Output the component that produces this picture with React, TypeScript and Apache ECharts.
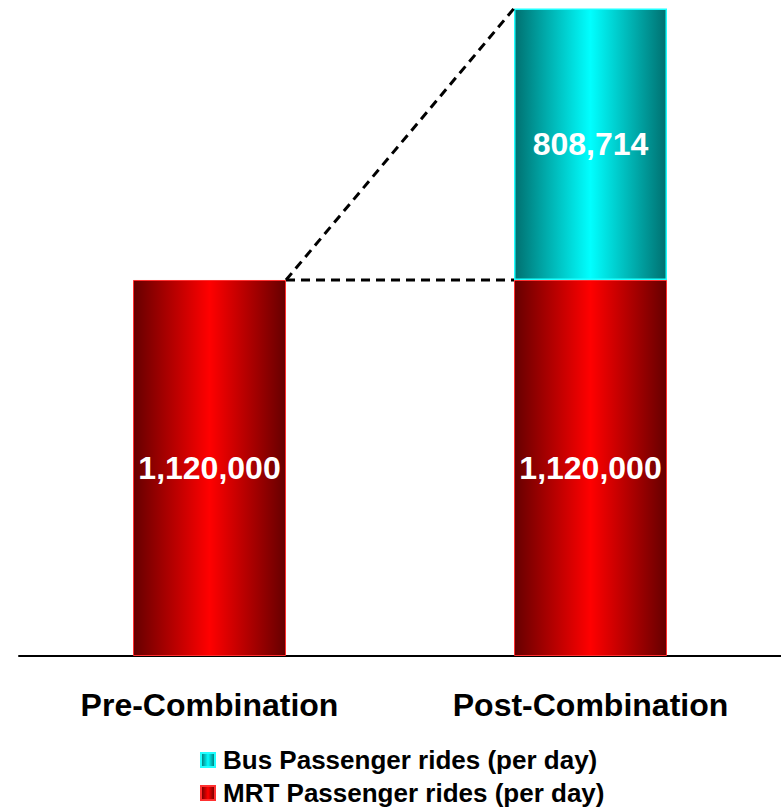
import React, { useEffect, useRef } from "react";
import * as echarts from "echarts";

const categories = ["Pre-Combination", "Post-Combination"];
const mrtValues = [1120000, 1120000];
const busValues = [null, 808714];
const seriesNames = ["Bus Passenger rides (per day)", "MRT Passenger rides (per day)"];

const redGrad = new echarts.graphic.LinearGradient(0, 0, 1, 0, [
  { offset: 0, color: "#660000" },
  { offset: 0.5, color: "#ff0000" },
  { offset: 1, color: "#660000" },
]);
const cyanGrad = new echarts.graphic.LinearGradient(0, 0, 1, 0, [
  { offset: 0, color: "#007070" },
  { offset: 0.5, color: "#00ffff" },
  { offset: 1, color: "#007070" },
]);

const fmt = (v: number) => v.toLocaleString("en-US");
const FONT = "Liberation Sans, Arial, sans-serif";

export default function App() {
  const ref = useRef<HTMLDivElement>(null);
  useEffect(() => {
    const chart = echarts.init(ref.current!, undefined, { renderer: "svg" });
    const total = mrtValues[1] + (busValues[1] as number);
    const barWidth = 153;
    const legendText = {
      fontFamily: FONT,
      fontWeight: "bold",
      fontSize: 26,
      color: "#000",
      padding: [0, 0, 0, 3],
    };
    const valueLabel = {
      show: true,
      position: "inside",
      formatter: (p: any) => fmt(p.value),
      color: "#fff",
      fontFamily: FONT,
      fontWeight: "bold",
      fontSize: 32,
    };
    chart.setOption({
      animation: false,
      grid: { left: 19, right: 0, top: 8.5, bottom: 151 },
      legend: [
        {
          left: 195,
          top: 742,
          icon: "rect",
          itemWidth: 14,
          itemHeight: 14,
          data: [seriesNames[0]],
          textStyle: legendText,
        },
        {
          left: 195,
          top: 775,
          icon: "rect",
          itemWidth: 14,
          itemHeight: 14,
          data: [seriesNames[1]],
          textStyle: legendText,
        },
      ],
      xAxis: {
        type: "category",
        data: categories,
        axisLine: { lineStyle: { color: "#000", width: 2 } },
        axisTick: { show: false },
        axisLabel: {
          margin: 33,
          fontFamily: FONT,
          fontWeight: "bold",
          fontSize: 32,
          color: "#000",
        },
      },
      yAxis: { type: "value", min: 0, max: total, show: false, splitLine: { show: false } },
      series: [
        {
          name: seriesNames[1],
          type: "bar",
          stack: "s",
          barWidth,
          data: mrtValues,
          itemStyle: { color: redGrad, borderColor: "#ff3030", borderWidth: 1 },
          label: valueLabel,
        },
        {
          name: seriesNames[0],
          type: "bar",
          stack: "s",
          barWidth,
          data: busValues,
          itemStyle: { color: cyanGrad, borderColor: "#20ffff", borderWidth: 1.5 },
          label: valueLabel,
        },
      ],
    });
    const p1 = chart.convertToPixel({ gridIndex: 0 }, [0, mrtValues[0]]) as number[];
    const p2 = chart.convertToPixel({ gridIndex: 0 }, [1, total]) as number[];
    const p3 = chart.convertToPixel({ gridIndex: 0 }, [1, mrtValues[1]]) as number[];
    const x1 = p1[0] + barWidth / 2;
    const x2 = p2[0] - barWidth / 2;
    const ls = { stroke: "#000", lineWidth: 3, lineDash: [9, 6] };
    chart.setOption({
      graphic: [
        { type: "line", shape: { x1, y1: p1[1], x2, y2: p2[1] }, style: ls, z: 10 },
        { type: "line", shape: { x1, y1: p1[1], x2, y2: p3[1] }, style: ls, z: 10 },
      ],
    });
    return () => chart.dispose();
  }, []);
  return <div ref={ref} style={{ width: 781, height: 807, position: "absolute", left: 0, top: 0 }} />;
}
